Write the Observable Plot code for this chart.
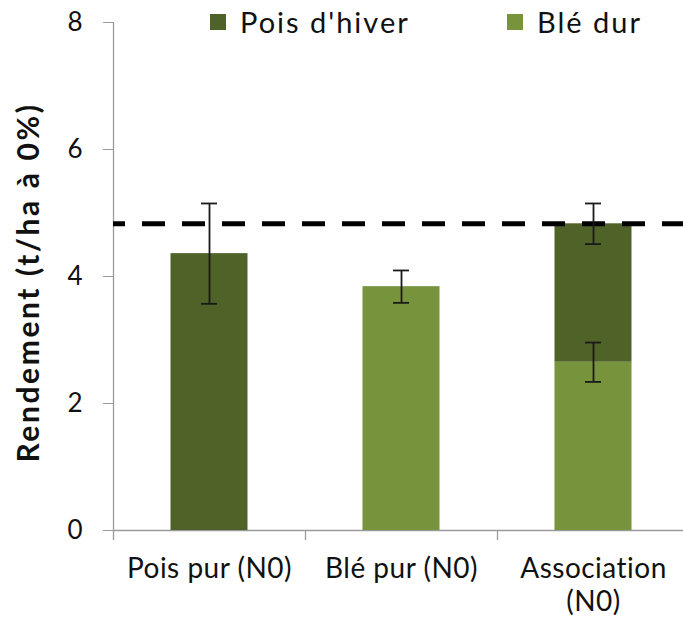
<!DOCTYPE html>
<html>
<head>
<meta charset="utf-8">
<script src="https://cdn.jsdelivr.net/npm/d3@7"></script>
<script src="https://cdn.jsdelivr.net/npm/@observablehq/plot@0.6"></script>
<style>
  body { margin: 0; background: #fff; }
  #wrap { position: relative; width: 683px; height: 625px; font-family: Lato, "Open Sans", sans-serif; }
  #legend { position: absolute; top: 0; left: 0; width: 683px; height: 44px; font-size: 29px; letter-spacing: 2px; color: #111; }
  .item { position: absolute; top: 4px; display: flex; align-items: center; white-space: nowrap; line-height: 36px; }
  .sw { width: 16px; height: 16px; margin-right: 14px; }
  g[aria-label="x-axis tick label"] { letter-spacing: 0.5px; }
</style>
</head>
<body>
<div id="wrap">
  <div id="chart"></div>
  <div id="legend"></div>
</div>
<script>
// Treatments on the x axis and their displayed labels
const categories = ["Pois pur (N0)", "Blé pur (N0)", "Association (N0)"];
const tickLabels = ["Pois pur (N0)", "Blé pur (N0)", "Association\n(N0)"];

// Crops (stack series) and their colours
const crops = ["Pois d'hiver", "Blé dur"];
const cropColors = ["#4f6228", "#77933c"];

// Yield of each crop per treatment (t/ha at 0% moisture)
const barCategory = ["Pois pur (N0)", "Blé pur (N0)", "Association (N0)", "Association (N0)"];
const barCrop     = ["Pois d'hiver", "Blé dur", "Blé dur", "Pois d'hiver"];
const barValue    = [4.36, 3.84, 2.65, 2.18];

// Error bars: centre and half-width
const errCategory = ["Pois pur (N0)", "Blé pur (N0)", "Association (N0)", "Association (N0)"];
const errCenter   = [4.36, 3.84, 4.83, 2.65];
const errHalf     = [0.79, 0.255, 0.32, 0.31];

// Reference yield (dashed line)
const referenceYield = [4.83];

const yTicks = [0, 2, 4, 6, 8];
const yTitle = "Rendement (t/ha à 0%)";

const bars = barCategory.map((c, i) => ({category: c, crop: barCrop[i], value: barValue[i]}));
const errs = errCategory.map((c, i) => ({category: c, lo: errCenter[i] - errHalf[i], hi: errCenter[i] + errHalf[i]}));

const axisGray = "#9a9a9a";
const font = "Lato, 'Open Sans', sans-serif";

const chart = Plot.plot({
  width: 683,
  height: 625,
  marginTop: 22,
  marginBottom: 95,
  marginLeft: 113,
  marginRight: 0,
  style: {fontFamily: font, background: "#fff", color: "#111"},
  x: {domain: categories, range: [113, 689], padding: 0},
  y: {domain: [0, 8]},
  color: {domain: crops, range: cropColors},
  marks: [
    // y axis
    Plot.axisY({ticks: yTicks, tickSize: 10, tickPadding: 21, fontSize: 26, stroke: axisGray, label: null, color: "#111"}),
    Plot.ruleX([0], {x: () => categories[0], dx: -96, stroke: axisGray, strokeWidth: 1.3}),
    // x axis labels
    Plot.axisX({tickSize: 0, tickPadding: 25, fontSize: 28, tickFormat: (d) => tickLabels[categories.indexOf(d)], label: null, lineHeight: 1.15}),
    // boundary ticks under the x axis
    Plot.ruleX(categories, {x: d => d, y1: 0, y2: 0, dx: -96, insetTop: 10, stroke: axisGray, strokeWidth: 1.3}),
    Plot.ruleY([0], {stroke: axisGray, strokeWidth: 1.3}),
    // y axis title
    Plot.text([yTitle], {frameAnchor: "left", textAnchor: "middle", rotate: -90, dx: -84, dy: 6, fontSize: 30, fontWeight: "bold", fill: "#111"}),
    // stacked yield bars
    Plot.barY(bars, Plot.stackY({x: "category", y: "value", fill: "crop", z: "crop", order: ["Blé dur", "Pois d'hiver"], insetLeft: 57.5, insetRight: 57.5})),
    // reference yield
    Plot.ruleY(referenceYield, {stroke: "#000", strokeWidth: 5, strokeDasharray: "23,17", strokeDashoffset: 11}),
    // error bars
    Plot.ruleX(errs, {x: "category", y1: "lo", y2: "hi", stroke: "#1a1a1a", strokeWidth: 1.8}),
    Plot.tickY(errs, {x: "category", y: "lo", stroke: "#1a1a1a", strokeWidth: 1.8, insetLeft: 88, insetRight: 88}),
    Plot.tickY(errs, {x: "category", y: "hi", stroke: "#1a1a1a", strokeWidth: 1.8, insetLeft: 88, insetRight: 88})
  ]
});
// wider tracking on the axis title
d3.select(chart).selectAll("text").filter(function () { return this.textContent === yTitle; })
  .style("letter-spacing", "2.6px");
document.getElementById("chart").appendChild(chart);

// Legend
const legend = document.getElementById("legend");
const legendLeft = [210, 507];
crops.forEach((c, i) => {
  const item = document.createElement("div");
  item.className = "item";
  item.style.left = legendLeft[i] + "px";
  const sw = document.createElement("div");
  sw.className = "sw";
  sw.style.background = cropColors[i];
  const label = document.createElement("span");
  label.textContent = c;
  item.appendChild(sw);
  item.appendChild(label);
  legend.appendChild(item);
});
</script>
</body>
</html>
